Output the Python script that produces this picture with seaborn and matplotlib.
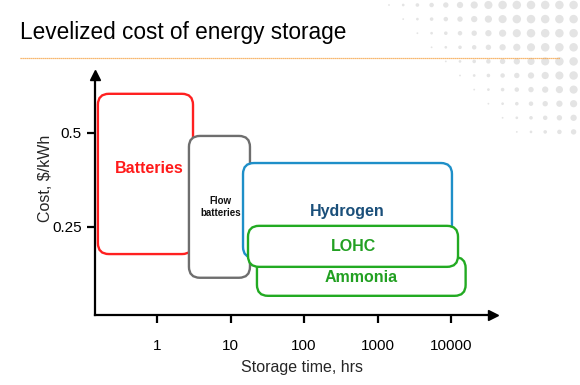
import numpy as np
import matplotlib
matplotlib.use("Agg")
import matplotlib.pyplot as plt
from matplotlib.patches import FancyBboxPatch
from matplotlib.transforms import IdentityTransform
import seaborn as sns

# storage technologies: range of storage time (hrs) and cost ($/kWh)
technologies = ["Batteries", "Flow\nbatteries", "Hydrogen", "Ammonia", "LOHC"]
hours_min = [0.157, 2.72, 14.8, 22.9, 17.3]
hours_max = [3.09, 18.4, 10300, 15800, 12450]
cost_min = [0.177, 0.114, 0.167, 0.066, 0.143]
cost_max = [0.603, 0.491, 0.419, 0.169, 0.252]
label_hours = [0.78, 7.4, 385, 597, 464]
label_cost = [0.404, 0.302, 0.289, 0.116, 0.196]

edge_colors = ["#ff2020", "#6e6e6e", "#1e8fc8", "#22aa22", "#22aa22"]
text_colors = ["#ff1a1a", "#111111", "#1a4f7a", "#22a022", "#22a022"]

x_ticks = [1, 10, 100, 1000, 10000]
x_labels = ["1", "10", "100", "1000", "10000"]
y_ticks = [0.25, 0.5]
y_labels = ["0.25", "0.5"]

sns.set_style("white")
plt.rcParams["font.family"] = ["Liberation Sans", "DejaVu Sans"]

fig = plt.figure(figsize=(5.8, 3.85), dpi=100)

# background layer: dotted pattern, title and orange rule
bg = fig.add_axes([0, 0, 1, 1], zorder=-1)
bg.set_xlim(0, 580)
bg.set_ylim(385, 0)
bg.axis("off")
dx, dy = [], []
ds = []
for row in range(10):
    for col in range(14):
        d = 1.8 + 0.9 * (col - row)
        if col >= row - 1 and d > 1.0:
            dx.append(389 + 14.2 * col)
            dy.append(5 + 14.1 * row)
            ds.append((min(d, 8.5) * 0.72) ** 2)
bg.scatter(dx, dy, s=ds, color="#e4e4e4", linewidths=0)
bg.plot([20, 560], [57.5, 57.5], color="#f5a040", lw=0.9, ls=(0, (1, 0.6)))
bg.text(20, 38.5, "Levelized cost of energy storage", fontsize=16.3,
        color="black", va="baseline", ha="left")

ax = fig.add_axes([95 / 580, 70 / 385, 398 / 580, 240 / 385])
ax.set_xscale("log")
ax.set_xlim(0.1434, 37250)
ax.set_ylim(0.015, 0.653)
ax.set_facecolor("none")
sns.despine(ax=ax)
for s in ["left", "bottom"]:
    ax.spines[s].set_linewidth(1.6)
    ax.spines[s].set_color("black")

ax.set_xticks(x_ticks)
ax.set_xticklabels(x_labels)
ax.set_yticks(y_ticks)
ax.set_yticklabels(y_labels)
ax.minorticks_off()
ax.tick_params(axis="x", direction="out", length=6, width=1.6, pad=11,
               labelsize=11, colors="black", bottom=True)
ax.tick_params(axis="y", direction="out", length=6, width=1.6, pad=3.6,
               labelsize=11, colors="black", left=True)

ax.set_xlabel("Storage time, hrs", fontsize=11.5)
ax.set_ylabel("Cost, $/kWh", fontsize=11.5)
ax.xaxis.set_label_coords(0.52, -0.1875)
ax.yaxis.set_label_coords(-0.1055, 0.571)

# arrow heads on the axes
ax.plot(0, 1, marker="^", color="black", markersize=7, transform=ax.transAxes, clip_on=False)
ax.plot(1, 0, marker=">", color="black", markersize=7, transform=ax.transAxes, clip_on=False)

for i, name in enumerate(technologies):
    p0 = ax.transData.transform((hours_min[i], cost_min[i]))
    p1 = ax.transData.transform((hours_max[i], cost_max[i]))
    box = FancyBboxPatch((p0[0], p0[1]), p1[0] - p0[0], p1[1] - p0[1],
                         boxstyle="round,pad=0,rounding_size=11",
                         transform=IdentityTransform(), facecolor="white",
                         edgecolor=edge_colors[i], linewidth=1.7, zorder=2 + i)
    ax.add_patch(box)
    small = "\n" in name
    ax.text(label_hours[i], label_cost[i], name, ha="center", va="center",
            fontsize=7 if small else 11.5, fontweight="bold",
            color=text_colors[i], zorder=2 + i, linespacing=1.25)

fig.savefig("out.png", dpi=100)
